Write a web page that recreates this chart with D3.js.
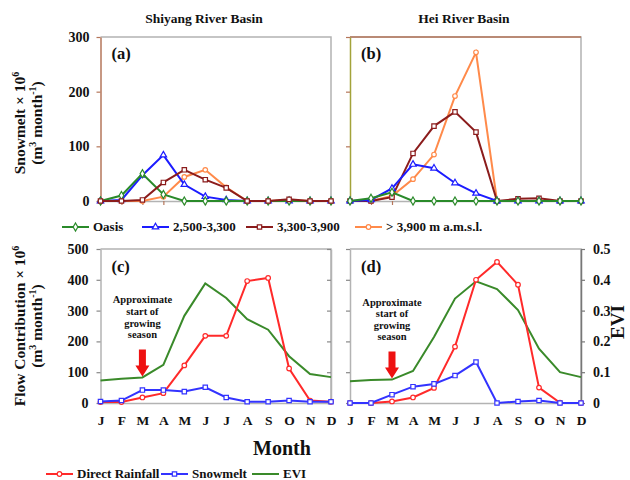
<!DOCTYPE html>
<html>
<head>
<meta charset="utf-8">
<script src="https://cdn.jsdelivr.net/npm/d3@7/dist/d3.min.js"></script>
<style>
  body { margin: 0; background: #fff; }
  text { font-family: "Liberation Serif", "Times New Roman", serif; font-weight: bold; fill: #111; }
</style>
</head>
<body>
<svg id="chart" width="630" height="480"></svg>
<script>
// months
const months = ['J','F','M','A','M','J','J','A','S','O','N','D'];

// snowmelt by elevation zone (10^6 m3/month)
const zoneLabels = ['Oasis', '2,500-3,300', '3,300-3,900', '> 3,900 m a.m.s.l.'];
const shiyangOasis = [0, 10, 50, 12, 0, 0, 0, 0, 0, 0, 0, 0];
const shiyangLow   = [0, 2, 47, 84, 30, 8, 2, 0, 0, 0, 0, 0];
const shiyangMid   = [0, 0, 2, 34, 57, 39, 24, 0, 0, 3, 0, 0];
const shiyangHigh  = [0, 0, 0, 8, 44, 57, 25, 0, 0, 2, 0, 0];
const heiOasis = [0, 5, 16, 0, 0, 0, 0, 0, 0, 0, 0, 0];
const heiLow   = [0, 2, 23, 67, 60, 33, 14, 0, 0, 0, 0, 0];
const heiMid   = [0, 0, 7, 87, 137, 163, 126, 0, 4, 5, 0, 0];
const heiHigh  = [0, 0, 9, 40, 85, 192, 272, 0, 0, 0, 0, 0];

// flow contribution + EVI
const flowLabels = ['Direct Rainfall', 'Snowmelt', 'EVI'];
const shiyangRain = [3, 3, 18, 32, 122, 218, 218, 396, 406, 112, 8, 4];
const shiyangSnow = [5, 8, 42, 42, 37, 51, 18, 4, 4, 8, 4, 4];
const shiyangEvi  = [0.073, 0.079, 0.083, 0.124, 0.283, 0.388, 0.341, 0.272, 0.238, 0.152, 0.094, 0.084];
const heiRain = [0, 0, 5, 18, 49, 183, 400, 458, 384, 50, 1, 0];
const heiSnow = [0, 0, 27, 53, 62, 89, 133, 0, 5, 8, 0, 0];
const heiEvi  = [0.071, 0.075, 0.076, 0.104, 0.214, 0.339, 0.395, 0.37, 0.302, 0.176, 0.1, 0.084];

// tick labels
const snowTicks = [0, 100, 200, 300];
const flowTicks = [0, 100, 200, 300, 400, 500];
const eviTicks = [0, 0.1, 0.2, 0.3, 0.4, 0.5];

const svg = d3.select('#chart');

//colors
const cOasis = '#2a8a2a', cLow = '#1c1cff', cMid = '#8b1c1c', cHigh = '#ff8a4a';
const cRain = '#ff2a2a', cSnow = '#3333ff', cEvi = '#3a8a2a';
const gray = '#b3b3b3', brown = '#b5765a', olive = '#a3a33a';

// scales
const xLeft = d3.scaleLinear().domain([0, 11]).range([100.5, 331]);
const xRight = d3.scaleLinear().domain([0, 11]).range([350, 581]);
const snowY = d3.scaleLinear().domain([0, 300]).range([201, 37]);
const flowY = d3.scaleLinear().domain([0, 500]).range([403, 249]);
const eviY = d3.scaleLinear().domain([0, 0.5]).range([403, 249]);

function border(x, y, color) {
    // top + right frame line
    svg.append('path')
        .attr('d', `M${x.range()[0]},${y.range()[1]}H${x.range()[1]}V${y.range()[0]}`)
        .attr('fill', 'none').attr('stroke', color).attr('stroke-width', 1.5);
}

function styleAxis(g, lineColor, tickColor, fs) {
    g.select('.domain').attr('stroke', lineColor).attr('stroke-width', 1.5);
    g.selectAll('.tick line').attr('stroke', tickColor).attr('stroke-width', 1.2);
    g.selectAll('.tick text').attr('fill', '#111').attr('font-size', fs)
        .attr('font-family', '"Liberation Serif", serif').attr('font-weight', 'bold');
}

function marker(g, type, x, y, color) {
    if (type === 'circle') {
        g.append('circle').attr('cx', x).attr('cy', y).attr('r', 2.3)
            .attr('fill', '#fff').attr('stroke', color).attr('stroke-width', 1.2);
    } else {
        const sym = type === 'square' ? d3.symbolSquare : type === 'triangle' ? d3.symbolTriangle : d3.symbolDiamond;
        g.append('path').attr('d', d3.symbol().type(sym).size(type === 'triangle' ? 18 : 19)())
            .attr('transform', `translate(${x},${y})`)
            .attr('fill', '#fff').attr('stroke', color).attr('stroke-width', 1.2);
    }
}

function series(x, y, values, color, type) {
    const g = svg.append('g');
    const line = d3.line().x((d, i) => x(i)).y(d => y(d));
    g.append('path').datum(values).attr('d', line)
        .attr('fill', 'none').attr('stroke', color).attr('stroke-width', 2);
    if (type) values.forEach((d, i) => marker(g, type, x(i), y(d), color));
}

// ---- top panels (snowmelt) ----
border(xLeft, snowY, gray);
border(xRight, snowY, gray);
svg.append('line').attr('x1', xRight(0)).attr('x2', xRight(11))
    .attr('y1', snowY(300)).attr('y2', snowY(300)).attr('stroke', brown).attr('stroke-width', 1.5);

[[xLeft, brown], [xRight, olive]].forEach(([x, col], k) => {
    const ax = svg.append('g').attr('transform', `translate(${x(0)},0)`)
        .call(d3.axisLeft(snowY).tickValues(snowTicks).tickSize(4).tickSizeOuter(0).tickPadding(7)
            .tickFormat(k === 0 ? d => d : ''));
    styleAxis(ax, col, brown, 14);
    const bx = svg.append('g').attr('transform', `translate(0,${snowY(0)})`)
        .call(d3.axisBottom(x).tickValues(d3.range(12)).tickSize(4).tickSizeOuter(0).tickFormat(''));
    styleAxis(bx, gray, brown, 12);
});

series(xLeft, snowY, shiyangHigh, cHigh, 'circle');
series(xLeft, snowY, shiyangLow, cLow, 'triangle');
series(xLeft, snowY, shiyangOasis, cOasis, 'diamond');
series(xLeft, snowY, shiyangMid, cMid, 'square');

series(xRight, snowY, heiHigh, cHigh, 'circle');
series(xRight, snowY, heiMid, cMid, 'square');
series(xRight, snowY, heiLow, cLow, 'triangle');
series(xRight, snowY, heiOasis, cOasis, 'diamond');

// ---- bottom panels (flow + EVI) ----
border(xLeft, flowY, gray);
border(xRight, flowY, gray);

const fl = svg.append('g').attr('transform', `translate(${xLeft(0)},0)`)
    .call(d3.axisLeft(flowY).tickValues(flowTicks).tickSize(4).tickSizeOuter(0).tickPadding(8));
styleAxis(fl, gray, '#888', 14);
const fr = svg.append('g').attr('transform', `translate(${xLeft(11)},0)`)
    .call(d3.axisLeft(flowY).tickValues(flowTicks).tickSize(4).tickSizeOuter(0).tickFormat(''));
fr.selectAll('.tick line').attr('x2', -4);
styleAxis(fr, gray, '#888', 14);
const dl = svg.append('g').attr('transform', `translate(${xRight(0)},0)`)
    .call(d3.axisLeft(flowY).tickValues(flowTicks).tickSize(4).tickSizeOuter(0).tickFormat(''));
styleAxis(dl, gray, '#888', 14);
const dr = svg.append('g').attr('transform', `translate(${xRight(11)},0)`)
    .call(d3.axisRight(eviY).tickValues(eviTicks).tickSize(4).tickSizeOuter(0).tickPadding(8)
        .tickFormat(d => d === 0 ? '0' : d3.format('.1f')(d)));
styleAxis(dr, '#777', '#777', 14);

[xLeft, xRight].forEach(x => {
    const mx = svg.append('g').attr('transform', `translate(0,${flowY(0)})`)
        .call(d3.axisBottom(x).tickValues(d3.range(12)).tickSize(0).tickPadding(12)
            .tickFormat(i => months[i]));
    styleAxis(mx, gray, gray, 13.5);
});

series(xLeft, eviY, shiyangEvi, cEvi, null);
series(xLeft, flowY, shiyangRain, cRain, 'circle');
series(xLeft, flowY, shiyangSnow, cSnow, 'square');
series(xRight, eviY, heiEvi, cEvi, null);
series(xRight, flowY, heiRain, cRain, 'circle');
series(xRight, flowY, heiSnow, cSnow, 'square');

// growing season arrows + notes
[[xLeft, shiyangEvi], [xRight, heiEvi]].forEach(([x, evi]) => {
    const ax = x(2), tip = eviY(evi[2]) - 1;
    svg.append('path')
        .attr('d', `M${ax - 3.5},${tip - 27}H${ax + 3.5}V${tip - 11}H${ax + 7}L${ax},${tip}L${ax - 7},${tip - 11}H${ax - 3.5}Z`)
        .attr('fill', '#ee1111');
    const note = svg.append('text').attr('text-anchor', 'middle').attr('font-size', 10.5);
    ['Approximate', 'start of', 'growing', 'season'].forEach((s, i) => {
        note.append('tspan').attr('x', ax).attr('y', tip - 73 + i * 11.6).text(s);
    });
});

// panel letters
[['(a)', xLeft, snowY(300) + 22], ['(b)', xRight, snowY(300) + 22],
 ['(c)', xLeft, flowY(500) + 23], ['(d)', xRight, flowY(500) + 23]].forEach(([t, x, y]) => {
    svg.append('text').attr('x', x(0) + 11).attr('y', y).attr('font-size', 16.5).text(t);
});

// titles
svg.append('text').attr('x', 204).attr('y', 23).attr('text-anchor', 'middle').attr('font-size', 13.5).text('Shiyang River Basin');
svg.append('text').attr('x', 464).attr('y', 23).attr('text-anchor', 'middle').attr('font-size', 13.5).text('Hei River Basin');

function yTitle(cy, first) {
    const t1 = svg.append('text').attr('transform', `translate(25,${cy}) rotate(-90)`)
        .attr('text-anchor', 'middle').attr('font-size', 15.5);
    t1.append('tspan').text(first + ' \u00d7 10');
    t1.append('tspan').attr('font-size', 10).attr('dy', -6).text('6');
    const t2 = svg.append('text').attr('transform', `translate(42,${cy}) rotate(-90)`)
        .attr('text-anchor', 'middle').attr('font-size', 15.5);
    t2.append('tspan').text('(m');
    t2.append('tspan').attr('font-size', 10).attr('dy', -6).text('3');
    t2.append('tspan').attr('dy', 6).text(' month');
    t2.append('tspan').attr('font-size', 10).attr('dy', -6).text('-1');
    t2.append('tspan').attr('dy', 6).text(')');
}
yTitle(123, 'Snowmelt');
yTitle(326, 'Flow Contribution');

svg.append('text').attr('transform', 'translate(624,322) rotate(-90)')
    .attr('text-anchor', 'middle').attr('font-size', 19).text('EVI');
svg.append('text').attr('x', 282).attr('y', 455).attr('text-anchor', 'middle').attr('font-size', 20).text('Month');

// legends
function legendItem(x0, y, color, type, label) {
    const g = svg.append('g');
    g.append('line').attr('x1', x0).attr('x2', x0 + 27).attr('y1', y).attr('y2', y)
        .attr('stroke', color).attr('stroke-width', 2);
    if (type) marker(g, type, x0 + 13.5, y, color);
    g.append('text').attr('x', x0 + 31).attr('y', y + 4).attr('font-size', 13).text(label);
}
const leg1x = [62, 142, 246, 355];
const leg1c = [cOasis, cLow, cMid, cHigh];
const leg1t = ['diamond', 'triangle', 'square', 'circle'];
zoneLabels.forEach((l, i) => legendItem(leg1x[i], 227, leg1c[i], leg1t[i], l));
const leg2x = [46, 161, 252];
const leg2c = [cRain, cSnow, cEvi];
const leg2t = ['circle', 'square', null];
flowLabels.forEach((l, i) => legendItem(leg2x[i], 474, leg2c[i], leg2t[i], l));
</script>
</body>
</html>
